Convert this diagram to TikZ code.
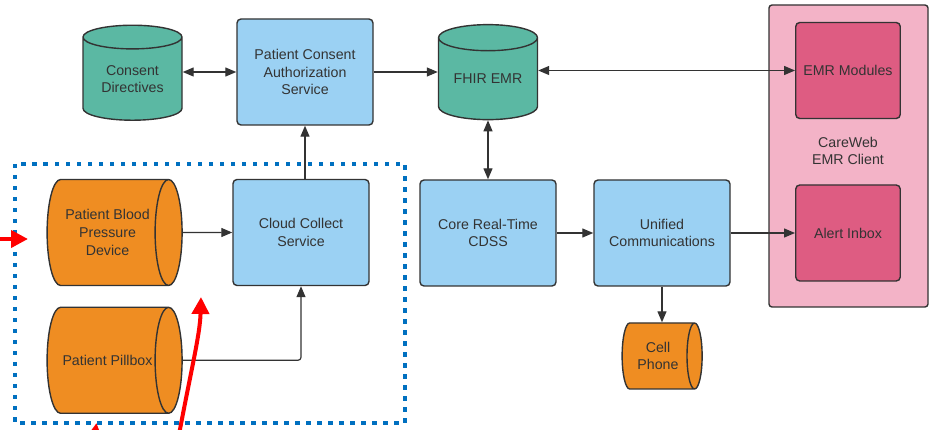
\documentclass[tikz,border=0pt]{standalone}
\usepackage{fontspec}
\setmainfont{Liberation Sans}
\usetikzlibrary{arrows.meta, shapes.geometric}

\definecolor{linegray}{HTML}{333333}
\definecolor{boxblue}{HTML}{9BD1F3}
\definecolor{tealdb}{HTML}{5BB8A3}
\definecolor{devorange}{HTML}{EF8D22}
\definecolor{panelpink}{HTML}{F3B3C7}
\definecolor{modmagenta}{HTML}{DE5C82}
\definecolor{dotblue}{HTML}{0070C0}

% fixed text box, so every device gets the same end ellipse
\newcommand{\devlabel}[3]{\parbox[c][#1][c]{#2}{\centering #3}}

\tikzset{
  lbl/.style={font=\fontsize{14.2pt}{17.7pt}\selectfont, text=linegray, align=center},
  svc/.style={lbl, draw=linegray, line width=1.4pt, fill=boxblue, rounded corners=4pt,
    minimum width=136pt, minimum height=106pt, inner sep=0pt},
  module/.style={svc, fill=modmagenta, minimum width=104.5pt, minimum height=96pt},
  store/.style={lbl, cylinder, shape border rotate=90, aspect=0.38, draw=linegray, line width=1.4pt,
    cylinder uses custom fill, cylinder body fill=tealdb, cylinder end fill=tealdb,
    minimum width=99pt, minimum height=95pt, inner sep=0pt},
  device/.style={lbl, cylinder, aspect=0.5, draw=linegray, line width=1.4pt,
    cylinder uses custom fill, cylinder body fill=devorange, cylinder end fill=devorange,
    minimum height=135pt, minimum width=106pt, inner sep=0pt},
  link/.style={draw=linegray, line width=1.2pt, -{Triangle[length=11pt,width=9pt]}},
  dlink/.style={link, {Triangle[length=11pt,width=9pt]}-{Triangle[length=11pt,width=9pt]}},
  hint/.style={red, line width=4pt, -{Triangle[length=17pt,width=17pt]}},
}

\begin{document}
\begin{tikzpicture}[x=1pt, y=-1pt]
    \useasboundingbox (0,0) rectangle (935,430);

    % EMR client panel
    \draw[linegray, line width=1.4pt, fill=panelpink, rounded corners=3pt] (769,5) rectangle (928,307);
    \node[lbl] (careweb) at (848,151) {CareWeb\\EMR Client};
    \node[module] (emr) at (848,70.5) {EMR Modules};
    \node[module] (alert) at (848,233) {Alert Inbox};

    % Home devices
    \draw[dotblue, line width=4pt, dash pattern=on 4.5pt off 6.5pt] (15,164) rectangle (405,423);
    \node[device] (bp) at (107.5,232.5) {\devlabel{54pt}{90pt}{Patient Blood\\Pressure\\Device}};
    \node[device] (pill) at (107.5,360.3) {\devlabel{54pt}{90pt}{Patient Pillbox}};
    \node[svc] (cloud) at (301,232.5) {Cloud Collect\\Service};

    % Services and stores
    \node[store] (consent) at (132.5,79) {Consent\\Directives};
    \node[svc] (pcas) at (305,72) {Patient Consent\\Authorization\\Service};
    \node[store] (fhir) at (488,79) {FHIR EMR};
    \node[svc] (core) at (488,233) {Core Real-Time\\CDSS};
    \node[svc] (unified) at (662,233) {Unified\\Communications};
    \node[device, minimum height=80pt, minimum width=66pt, aspect=0.42] (cell) at (658,356) {\devlabel{36pt}{50pt}{Cell\\Phone}};

    % Connectors
    \draw[dlink] (consent.east |- pcas.west) -- (pcas.west);
    \draw[link] (pcas.east) -- (pcas.east -| fhir.west);
    \draw[dlink] (fhir.east |- emr.west) -- (emr.west);
    \draw[dlink] (fhir.south) -- (core.north);
    \draw[link] (core.east) -- (unified.west);
    \draw[link] (unified.east) -- (alert.west);
    \draw[link] (unified.south) -- (unified.south |- cell.north);
    \draw[link] (bp.east) -- (cloud.west);
    \draw[link, rounded corners=3pt] (pill.east) -| (cloud.south);
    \draw[link] (pcas.south |- cloud.north) -- (pcas.south);

    % Red hints
    \begin{scope}
        \clip (0,0) rectangle (935,430);
        \coordinate (leftin) at (-10,239);
        \coordinate (lefttip) at (28,239);
        \coordinate (curvein) at (178,440);
        \coordinate (curvetip) at (201,297);
        \coordinate (lowin) at (92,455);
        \coordinate (lowtip) at (96.5,423);
        \draw[hint] (leftin) -- (lefttip);
        \draw[hint] (curvein) .. controls (191,370) and (200,335) .. (curvetip);
        \draw[hint] (lowin) -- (lowtip);
    \end{scope}
\end{tikzpicture}
\end{document}
